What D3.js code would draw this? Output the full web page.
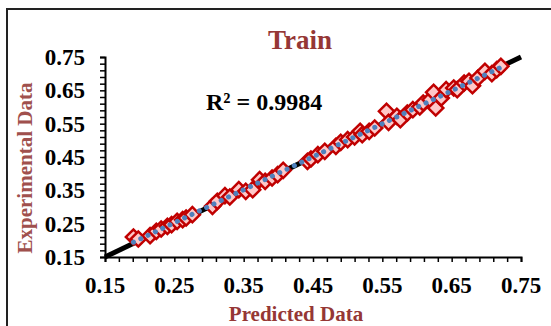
<!DOCTYPE html>
<html>
<head>
<meta charset="utf-8">
<script src="https://cdn.jsdelivr.net/npm/d3@7"></script>
<style>
  body { margin: 0; background: #fff; }
  text { font-family: "Liberation Serif", "Times New Roman", serif; font-weight: bold; }
</style>
</head>
<body>
<div id="chart"></div>
<script>
// Predicted (x) vs experimental (y) values
var predicted = [0.191, 0.198, 0.215, 0.224, 0.231, 0.240, 0.246, 0.254, 0.262, 0.267, 0.276,
  0.305, 0.312, 0.323, 0.330, 0.343, 0.353, 0.363, 0.373, 0.381, 0.391, 0.399, 0.407,
  0.442, 0.447, 0.457, 0.467, 0.483, 0.490, 0.500, 0.510, 0.518, 0.521, 0.531, 0.539,
  0.556, 0.559, 0.571, 0.576, 0.586, 0.594, 0.604, 0.609, 0.619, 0.624, 0.627, 0.635,
  0.642, 0.653, 0.658, 0.668, 0.675, 0.680, 0.688, 0.698, 0.708, 0.715, 0.721];
var experimental = [0.210, 0.204, 0.214, 0.227, 0.234, 0.242, 0.247, 0.257, 0.262, 0.267, 0.277,
  0.302, 0.317, 0.334, 0.330, 0.352, 0.347, 0.352, 0.382, 0.377, 0.387, 0.397, 0.410,
  0.437, 0.444, 0.457, 0.467, 0.482, 0.494, 0.502, 0.510, 0.527, 0.517, 0.527, 0.537,
  0.587, 0.554, 0.572, 0.562, 0.582, 0.592, 0.600, 0.612, 0.622, 0.644, 0.597, 0.627,
  0.652, 0.657, 0.652, 0.672, 0.677, 0.664, 0.687, 0.707, 0.700, 0.712, 0.722];

// the black y = x reference line
var refLine = [0.15, 0.75];

var tickValues = [0.15, 0.25, 0.35, 0.45, 0.55, 0.65, 0.75];
var minorTicks = d3.range(0, 31).map(function (i) { return +(0.15 + i * 0.02).toFixed(2); });

var titleText = "Train";
var r2Text = "R² = 0.9984";
var xTitle = "Predicted Data";
var yTitle = "Experimental Data";

var W = 551, H = 326;
var margin = { top: 57, right: 30, bottom: 69, left: 105 },
  width = 521 - margin.left,
  height = 257 - margin.top;

var x = d3.scaleLinear().domain([0.15, 0.75]).range([0, width]);
var y = d3.scaleLinear().domain([0.15, 0.75]).range([height, 0]);

var svg = d3.select("#chart").append("svg")
  .attr("width", W)
  .attr("height", H);

// outer frame (cut off on right and bottom like the source)
svg.append("rect")
  .attr("x", 7).attr("y", 9)
  .attr("width", W + 10).attr("height", H + 10)
  .attr("fill", "#fff")
  .attr("stroke", "#222")
  .attr("stroke-width", 2);

var g = svg.append("g")
  .attr("transform", "translate(" + margin.left + "," + margin.top + ")");

// minor ticks (no labels) on both axes
g.append("g")
  .attr("class", "x-minor")
  .attr("transform", "translate(0," + height + ")")
  .call(d3.axisBottom(x).tickValues(minorTicks).tickSize(5).tickFormat(""));
g.append("g")
  .attr("class", "y-minor")
  .call(d3.axisLeft(y).tickValues(minorTicks).tickSize(5).tickFormat(""));

g.selectAll(".x-minor path, .y-minor path").attr("stroke-width", 2);
g.selectAll(".x-minor line, .y-minor line").attr("stroke-width", 1.5);

// tick labels
g.selectAll(".xlab")
  .data(tickValues)
  .enter().append("text")
  .attr("class", "xlab")
  .attr("x", function (d) { return x(d); })
  .attr("y", height + 36)
  .attr("text-anchor", "middle")
  .style("font-size", "23px")
  .text(function (d) { return d3.format(".2f")(d); });

g.selectAll(".ylab")
  .data(tickValues)
  .enter().append("text")
  .attr("class", "ylab")
  .attr("x", -20)
  .attr("y", function (d) { return y(d) + 8; })
  .attr("text-anchor", "end")
  .style("font-size", "23px")
  .text(function (d) { return d3.format(".2f")(d); });

// black y = x line
g.append("line")
  .attr("x1", x(refLine[0])).attr("y1", y(refLine[0]))
  .attr("x2", x(refLine[1])).attr("y2", y(refLine[1]))
  .attr("stroke", "#000")
  .attr("stroke-width", 5);

// data markers
var pts = predicted.map(function (d, i) { return { p: d, e: experimental[i] }; });
g.selectAll(".pt")
  .data(pts)
  .enter().append("path")
  .attr("class", "pt")
  .attr("d", d3.symbol().type(d3.symbolSquare).size(115))
  .attr("transform", function (d) {
    return "translate(" + x(d.p) + "," + y(d.e) + ") rotate(45)";
  })
  .attr("fill", "#ffc8c8")
  .attr("stroke", "#c00000")
  .attr("stroke-width", 2.5);

// linear trend line (least squares fit of the points), dotted blue
var mx = d3.mean(predicted), my = d3.mean(experimental);
var sxy = d3.sum(pts, function (d) { return (d.p - mx) * (d.e - my); });
var sxx = d3.sum(pts, function (d) { return (d.p - mx) * (d.p - mx); });
var slope = sxy / sxx, icpt = my - slope * mx;
var xr = d3.extent(predicted);
g.append("line")
  .attr("x1", x(xr[0])).attr("y1", y(icpt + slope * xr[0]))
  .attr("x2", x(xr[1])).attr("y2", y(icpt + slope * xr[1]))
  .attr("stroke", "#4f81bd")
  .attr("stroke-width", 5)
  .attr("stroke-linecap", "round")
  .attr("stroke-dasharray", "0.1 8");

// texts
svg.append("text")
  .attr("x", 300).attr("y", 49)
  .attr("text-anchor", "middle")
  .attr("fill", "#953735")
  .style("font-size", "27px")
  .text(titleText);

svg.append("text")
  .attr("x", 206).attr("y", 110)
  .attr("fill", "#000")
  .style("font-size", "24px")
  .text(r2Text);

svg.append("text")
  .attr("x", 296).attr("y", 321)
  .attr("text-anchor", "middle")
  .attr("fill", "#953735")
  .style("font-size", "21px")
  .text(xTitle);

svg.append("text")
  .attr("transform", "translate(32,168) rotate(-90)")
  .attr("text-anchor", "middle")
  .attr("fill", "#a0504d")
  .style("font-size", "21px")
  .text(yTitle);
</script>
</body>
</html>
